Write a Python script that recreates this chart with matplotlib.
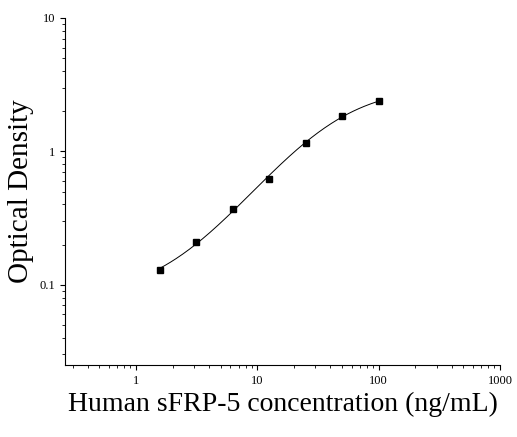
import numpy as np
import matplotlib
matplotlib.use("Agg")
import matplotlib.pyplot as plt

conc = [1.5625, 3.125, 6.25, 12.5, 25, 50, 100]
od = [0.13, 0.21, 0.37, 0.62, 1.15, 1.85, 2.4]

plt.rcParams['font.family'] = ['Liberation Serif', 'DejaVu Serif']
fig = plt.figure(figsize=(5.17, 4.37), dpi=100)
ax = fig.add_axes([65/517, 1-365/437, 435/517, (365-18)/437])

# 4PL fit via grid search
x = np.array(conc); y = np.array(od)
best = None
for A in np.linspace(0.0, 0.15, 16):
    for D in np.linspace(2.4, 4.0, 33):
        for C in np.linspace(8, 40, 65):
            for B in np.linspace(0.8, 2.0, 25):
                f = (A - D) / (1 + (x / C) ** B) + D
                if np.any(f <= 0):
                    continue
                e = np.sum((np.log(f) - np.log(y)) ** 2)
                if best is None or e < best[0]:
                    best = (e, A, D, C, B)
_, A, D, C, B = best
xs = np.logspace(np.log10(conc[0]), np.log10(conc[-1]), 200)
ax.plot(xs, (A - D) / (1 + (xs / C) ** B) + D, color='black', lw=0.7)
ax.plot(conc, od, 's', color='black', ms=5)

ax.set_xscale('log'); ax.set_yscale('log')
ax.set_xlim(0.26, 1000); ax.set_ylim(0.025, 10)
ax.set_xticks([1, 10, 100, 1000]); ax.set_xticklabels(['1', '10', '100', '1000'])
ax.set_yticks([0.1, 1, 10]); ax.set_yticklabels(['0.1', '1', '10'])
ax.tick_params(labelsize=9)
ax.spines['top'].set_visible(False); ax.spines['right'].set_visible(False)
ax.set_xlabel('Human sFRP-5 concentration (ng/mL)', fontsize=20)
ax.set_ylabel('Optical Density', fontsize=21)
fig.savefig('out.png', dpi=100)
